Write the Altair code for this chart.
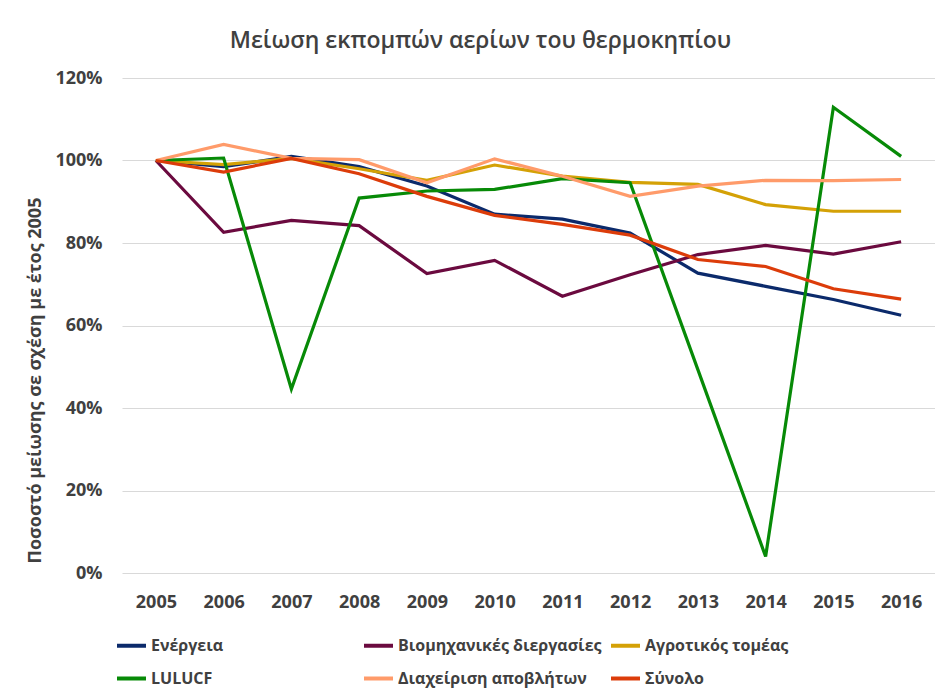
import altair as alt
import pandas as pd

years = ["2005", "2006", "2007", "2008", "2009", "2010", "2011", "2012", "2013", "2014", "2015", "2016"]

series_names = ["Ενέργεια", "Βιομηχανικές διεργασίες", "Αγροτικός τομέας",
                "LULUCF", "Διαχείριση αποβλήτων", "Σύνολο"]
series_colors = ["#0B2A6B", "#6B0A3F", "#D4A106", "#078A07", "#FF9B6A", "#DC3C0A"]

energy = [100, 98.5, 101.0, 98.5, 93.8, 87.0, 85.8, 82.4, 72.7, 69.5, 66.3, 62.5]
industry = [100, 82.6, 85.5, 84.2, 72.6, 75.8, 67.1, 72.3, 77.2, 79.4, 77.3, 80.3]
agriculture = [100, 99.0, 100.5, 98.0, 95.2, 98.9, 96.2, 94.7, 94.2, 89.3, 87.7, 87.7]
lulucf = [100, 100.6, 44.6, 90.9, 92.6, 93.0, 95.6, 94.6, 49.3, 4.0, 112.9, 101.0]
waste = [100, 103.9, 100.5, 100.2, 94.6, 100.4, 96.2, 91.3, 93.8, 95.2, 95.1, 95.4]
total = [100, 97.2, 100.5, 96.8, 91.3, 86.7, 84.5, 81.9, 76.0, 74.3, 68.9, 66.4]

y_ticks = [0, 20, 40, 60, 80, 100, 120]

all_values = [energy, industry, agriculture, lulucf, waste, total]
rows = []
for name, vals in zip(series_names, all_values):
    for yr, v in zip(years, vals):
        rows.append({"year": yr, "value": v, "series": name})
df = pd.DataFrame(rows)

FONT = "Open Sans"
TXT = "#404040"

chart = alt.Chart(df).mark_line(strokeWidth=3.2).encode(
    x=alt.X("year:N", sort=years, title=None,
            scale=alt.Scale(type="point", padding=0.5),
            axis=alt.Axis(labelAngle=0, ticks=False, domain=False, grid=False,
                          labelPadding=20, labelFont=FONT, labelFontSize=18,
                          labelFontWeight="bold", labelColor=TXT)),
    y=alt.Y("value:Q", title="Ποσοστό μείωσης σε σχέση με έτος 2005",
            scale=alt.Scale(domain=[0, 120], nice=False, zero=True),
            axis=alt.Axis(values=y_ticks, labelExpr="datum.value + '%'",
                          ticks=False, domain=False, grid=True,
                          gridColor="#d9d9d9", gridWidth=1,
                          labelPadding=20, labelFont=FONT, labelFontSize=18,
                          labelFontWeight="bold", labelColor=TXT,
                          titleFont=FONT, titleFontSize=18, titleFontWeight="bold",
                          titleColor=TXT, titleX=-87, titleY=302,
                          titleAngle=-90, titleAlign="center", titleBaseline="middle")),
    color=alt.Color("series:N", sort=series_names,
                    scale=alt.Scale(domain=series_names, range=series_colors),
                    legend=alt.Legend(title=None, orient="none", legendX=-7, legendY=551,
                                      direction="horizontal",
                                      columns=3, gridAlign="all", columnPadding=1,
                                      rowPadding=8, symbolType="stroke",
                                      symbolStrokeWidth=4, symbolSize=841,
                                      labelOffset=3, labelFont=FONT, labelFontSize=16,
                                      labelFontWeight="bold", labelColor=TXT,
                                      labelLimit=400)),
    order=alt.Order("year:N"),
).properties(
    width=813,
    height=495,
    title=alt.TitleParams("Μείωση εκπομπών αερίων του θερμοκηπίου", anchor="middle",
                          frame="group", dx=-48, offset=16, font=FONT, fontSize=23,
                          fontWeight=600, color=TXT),
    autosize=alt.AutoSizeParams(type="none"),
    padding={"left": 114, "top": 70, "right": 0, "bottom": 115},
).configure_view(stroke=None)

chart.save("out.html", embed_options={"renderer": "svg", "actions": False})
